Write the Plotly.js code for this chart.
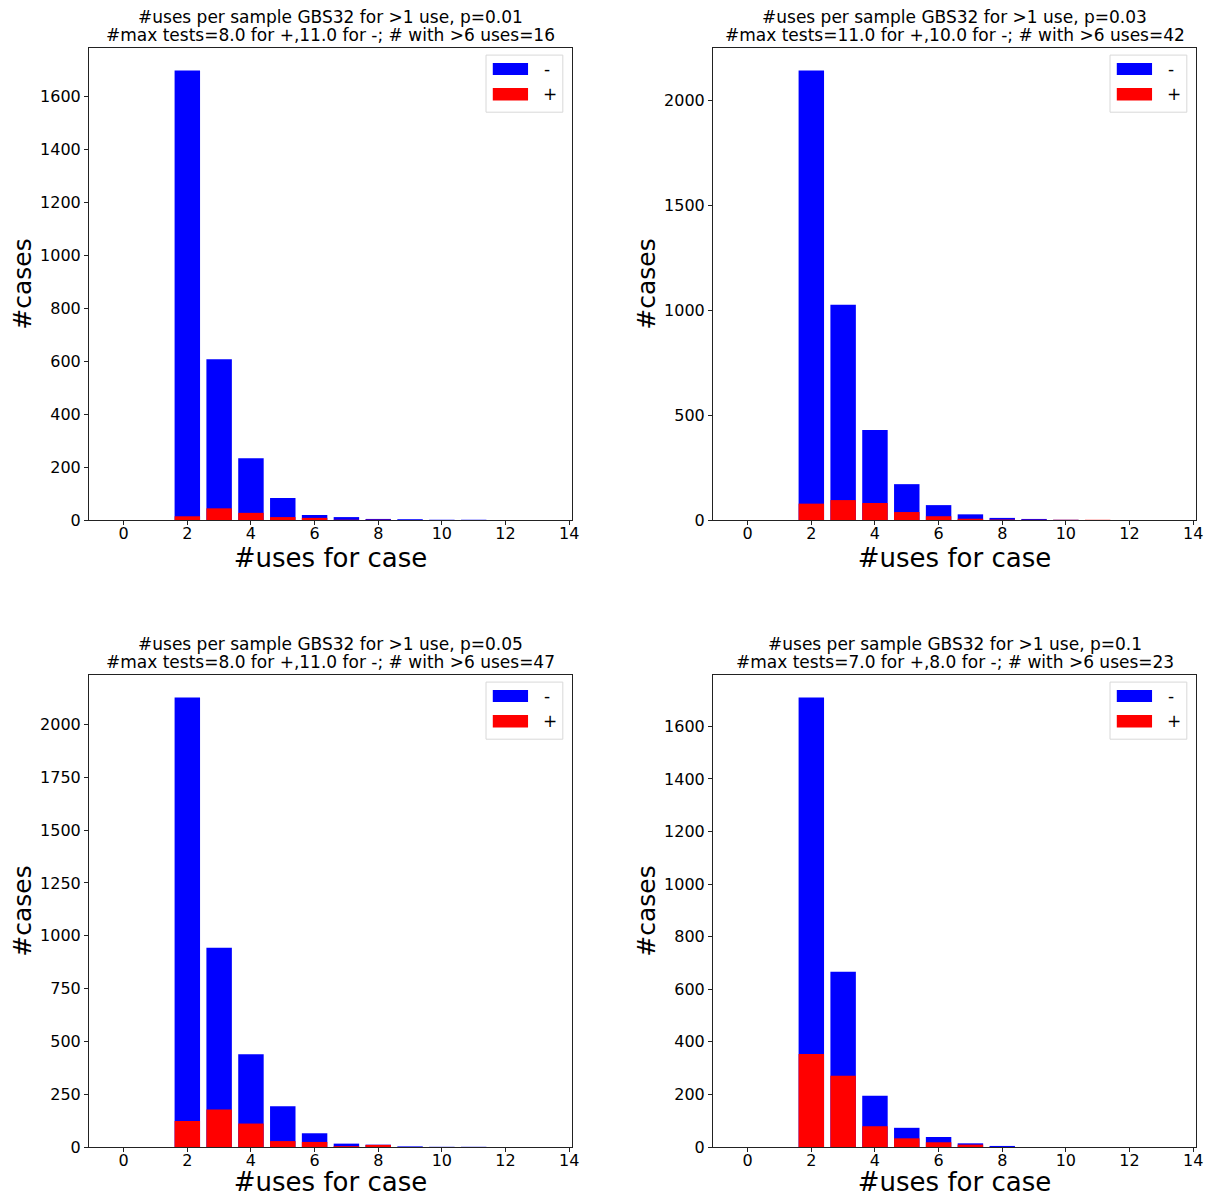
<!DOCTYPE html>
<html>
<head>
<meta charset="utf-8">
<script src="https://cdn.plot.ly/plotly-3.0.1.min.js"></script>
<style>body{margin:0;padding:0;background:#fff;} #chart{width:1206px;height:1197px;}</style>
</head>
<body>
<div id="chart"></div>
<script>
// #uses per case (bins 0..13)
const usesBins = [0,1,2,3,4,5,6,7,8,9,10,11,12,13];

// p = 0.01
const p001Neg = [0,0,1697,607,233,83,19,11,4,3,1,1,0,0];
const p001Pos = [0,0,14,44,27,11,8,1,1,0,0,0,0,0];
// p = 0.03
const p003Neg = [0,0,2145,1027,429,171,71,27,10,5,1,0,0,0];
const p003Pos = [0,0,78,95,81,38,18,6,2,1,1,1,0,0];
// p = 0.05
const p005Neg = [0,0,2128,943,439,193,65,16,11,3,1,1,0,0];
const p005Pos = [0,0,123,177,111,28,24,4,10,0,0,0,0,0];
// p = 0.1
const p010Neg = [0,0,1710,667,195,73,38,14,4,0,0,0,0,0];
const p010Pos = [0,0,354,271,79,33,18,9,0,0,0,0,0,0];

const titleLine1 = [
  "#uses per sample GBS32 for >1 use, p=0.01",
  "#uses per sample GBS32 for >1 use, p=0.03",
  "#uses per sample GBS32 for >1 use, p=0.05",
  "#uses per sample GBS32 for >1 use, p=0.1"
];
const titleLine2 = [
  "#max tests=8.0 for +,11.0 for -; # with >6 uses=16",
  "#max tests=11.0 for +,10.0 for -; # with >6 uses=42",
  "#max tests=8.0 for +,11.0 for -; # with >6 uses=47",
  "#max tests=7.0 for +,8.0 for -; # with >6 uses=23"
];
const negLabel = "-";
const posLabel = "+";
const xTickVals = [0,2,4,6,8,10,12,14];
const yDticks = [200, 500, 250, 200];
const xTitle = "#uses for case";
const yTitle = "#cases";

const panels = [
  {neg:p001Neg, pos:p001Pos},
  {neg:p003Neg, pos:p003Pos},
  {neg:p005Neg, pos:p005Pos},
  {neg:p010Neg, pos:p010Pos}
];

const W = 1206, H = 1197;
const xDomains = [[89/W, 572/W],[713/W, 1196/W]];
const yDomains = [[1-520/H, 1-48/H],[1-1147/H, 1-675/H]];
const font = "DejaVu Sans, Arial, sans-serif";

const data = [];
const layout = {
  width: W, height: H,
  margin: {l:0, r:0, t:0, b:0},
  paper_bgcolor: "#fff", plot_bgcolor: "#fff",
  showlegend: false,
  barmode: "overlay",
  bargap: 0.2,
  font: {family: font, size: 16, color: "#000"},
  annotations: [],
  shapes: []
};

panels.forEach((p, i) => {
  const n = i + 1;
  const xa = n === 1 ? "x" : "x" + n;
  const ya = n === 1 ? "y" : "y" + n;
  const col = i % 2, row = Math.floor(i / 2);
  const maxV = Math.max(...p.neg, ...p.pos);
  data.push({type:"bar", x: usesBins, y: p.neg, name: negLabel, marker:{color:"#0000ff", line:{width:0}}, width:0.8, xaxis: xa, yaxis: ya});
  data.push({type:"bar", x: usesBins, y: p.pos, name: posLabel, marker:{color:"#ff0000", line:{width:0}}, width:0.8, xaxis: xa, yaxis: ya});
  const axx = n === 1 ? "xaxis" : "xaxis" + n;
  const axy = n === 1 ? "yaxis" : "yaxis" + n;
  layout[axx] = {
    domain: xDomains[col], anchor: ya,
    range: [-1.09, 14.09],
    tickvals: xTickVals, ticks: "outside", ticklen: 4, tickwidth: 1, tickcolor: "#222",
    ticklabelstandoff: -5,
    showline: true, mirror: true, linecolor: "#222", linewidth: 1,
    showgrid: false, zeroline: false,
    tickfont: {size: 16, family: font},
    title: {text: xTitle, font: {size: 26, family: font}, standoff: 2}
  };
  layout[axy] = {
    domain: yDomains[row], anchor: xa,
    range: [0, maxV * 1.05],
    dtick: yDticks[i], tick0: 0, ticks: "outside", ticklen: 4, tickwidth: 1, tickcolor: "#222",
    showline: true, mirror: true, linecolor: "#222", linewidth: 1,
    showgrid: false, zeroline: false,
    tickfont: {size: 16, family: font},
    title: {text: yTitle, font: {size: 25, family: font}, standoff: 1}
  };
  layout.annotations.push({
    text: titleLine1[i], xref: xa + " domain", yref: ya + " domain",
    x: 0.5, y: 1, xanchor: "center", yanchor: "middle", yshift: 31,
    showarrow: false, font: {size: 17, family: font}, align: "center"
  });
  layout.annotations.push({
    text: titleLine2[i], xref: xa + " domain", yref: ya + " domain",
    x: 0.5, y: 1, xanchor: "center", yanchor: "middle", yshift: 13,
    showarrow: false, font: {size: 17, family: font}, align: "center"
  });
  // legend box (matplotlib style)
  layout.shapes.push({type:"rect", xref: xa + " domain", yref: ya + " domain",
    x0: 0.822, x1: 0.981, y0: 0.864, y1: 0.985, line:{color:"#d8d8d8", width:1}, fillcolor:"rgba(255,255,255,0.8)"});
  layout.shapes.push({type:"rect", xref: xa + " domain", yref: ya + " domain",
    x0: 0.836, x1: 0.909, y0: 0.943, y1: 0.968, line:{width:0}, fillcolor:"#0000ff"});
  layout.shapes.push({type:"rect", xref: xa + " domain", yref: ya + " domain",
    x0: 0.836, x1: 0.909, y0: 0.889, y1: 0.915, line:{width:0}, fillcolor:"#ff0000"});
  layout.annotations.push({text: negLabel, xref: xa + " domain", yref: ya + " domain",
    x: 0.938, y: 0.955, xanchor: "left", yanchor: "middle", showarrow: false, font:{size:17, family: font}});
  layout.annotations.push({text: posLabel, xref: xa + " domain", yref: ya + " domain",
    x: 0.935, y: 0.902, xanchor: "left", yanchor: "middle", showarrow: false, font:{size:17, family: font}});
});

Plotly.newPlot("chart", data, layout, {displayModeBar: false, staticPlot: true});
</script>
</body>
</html>
